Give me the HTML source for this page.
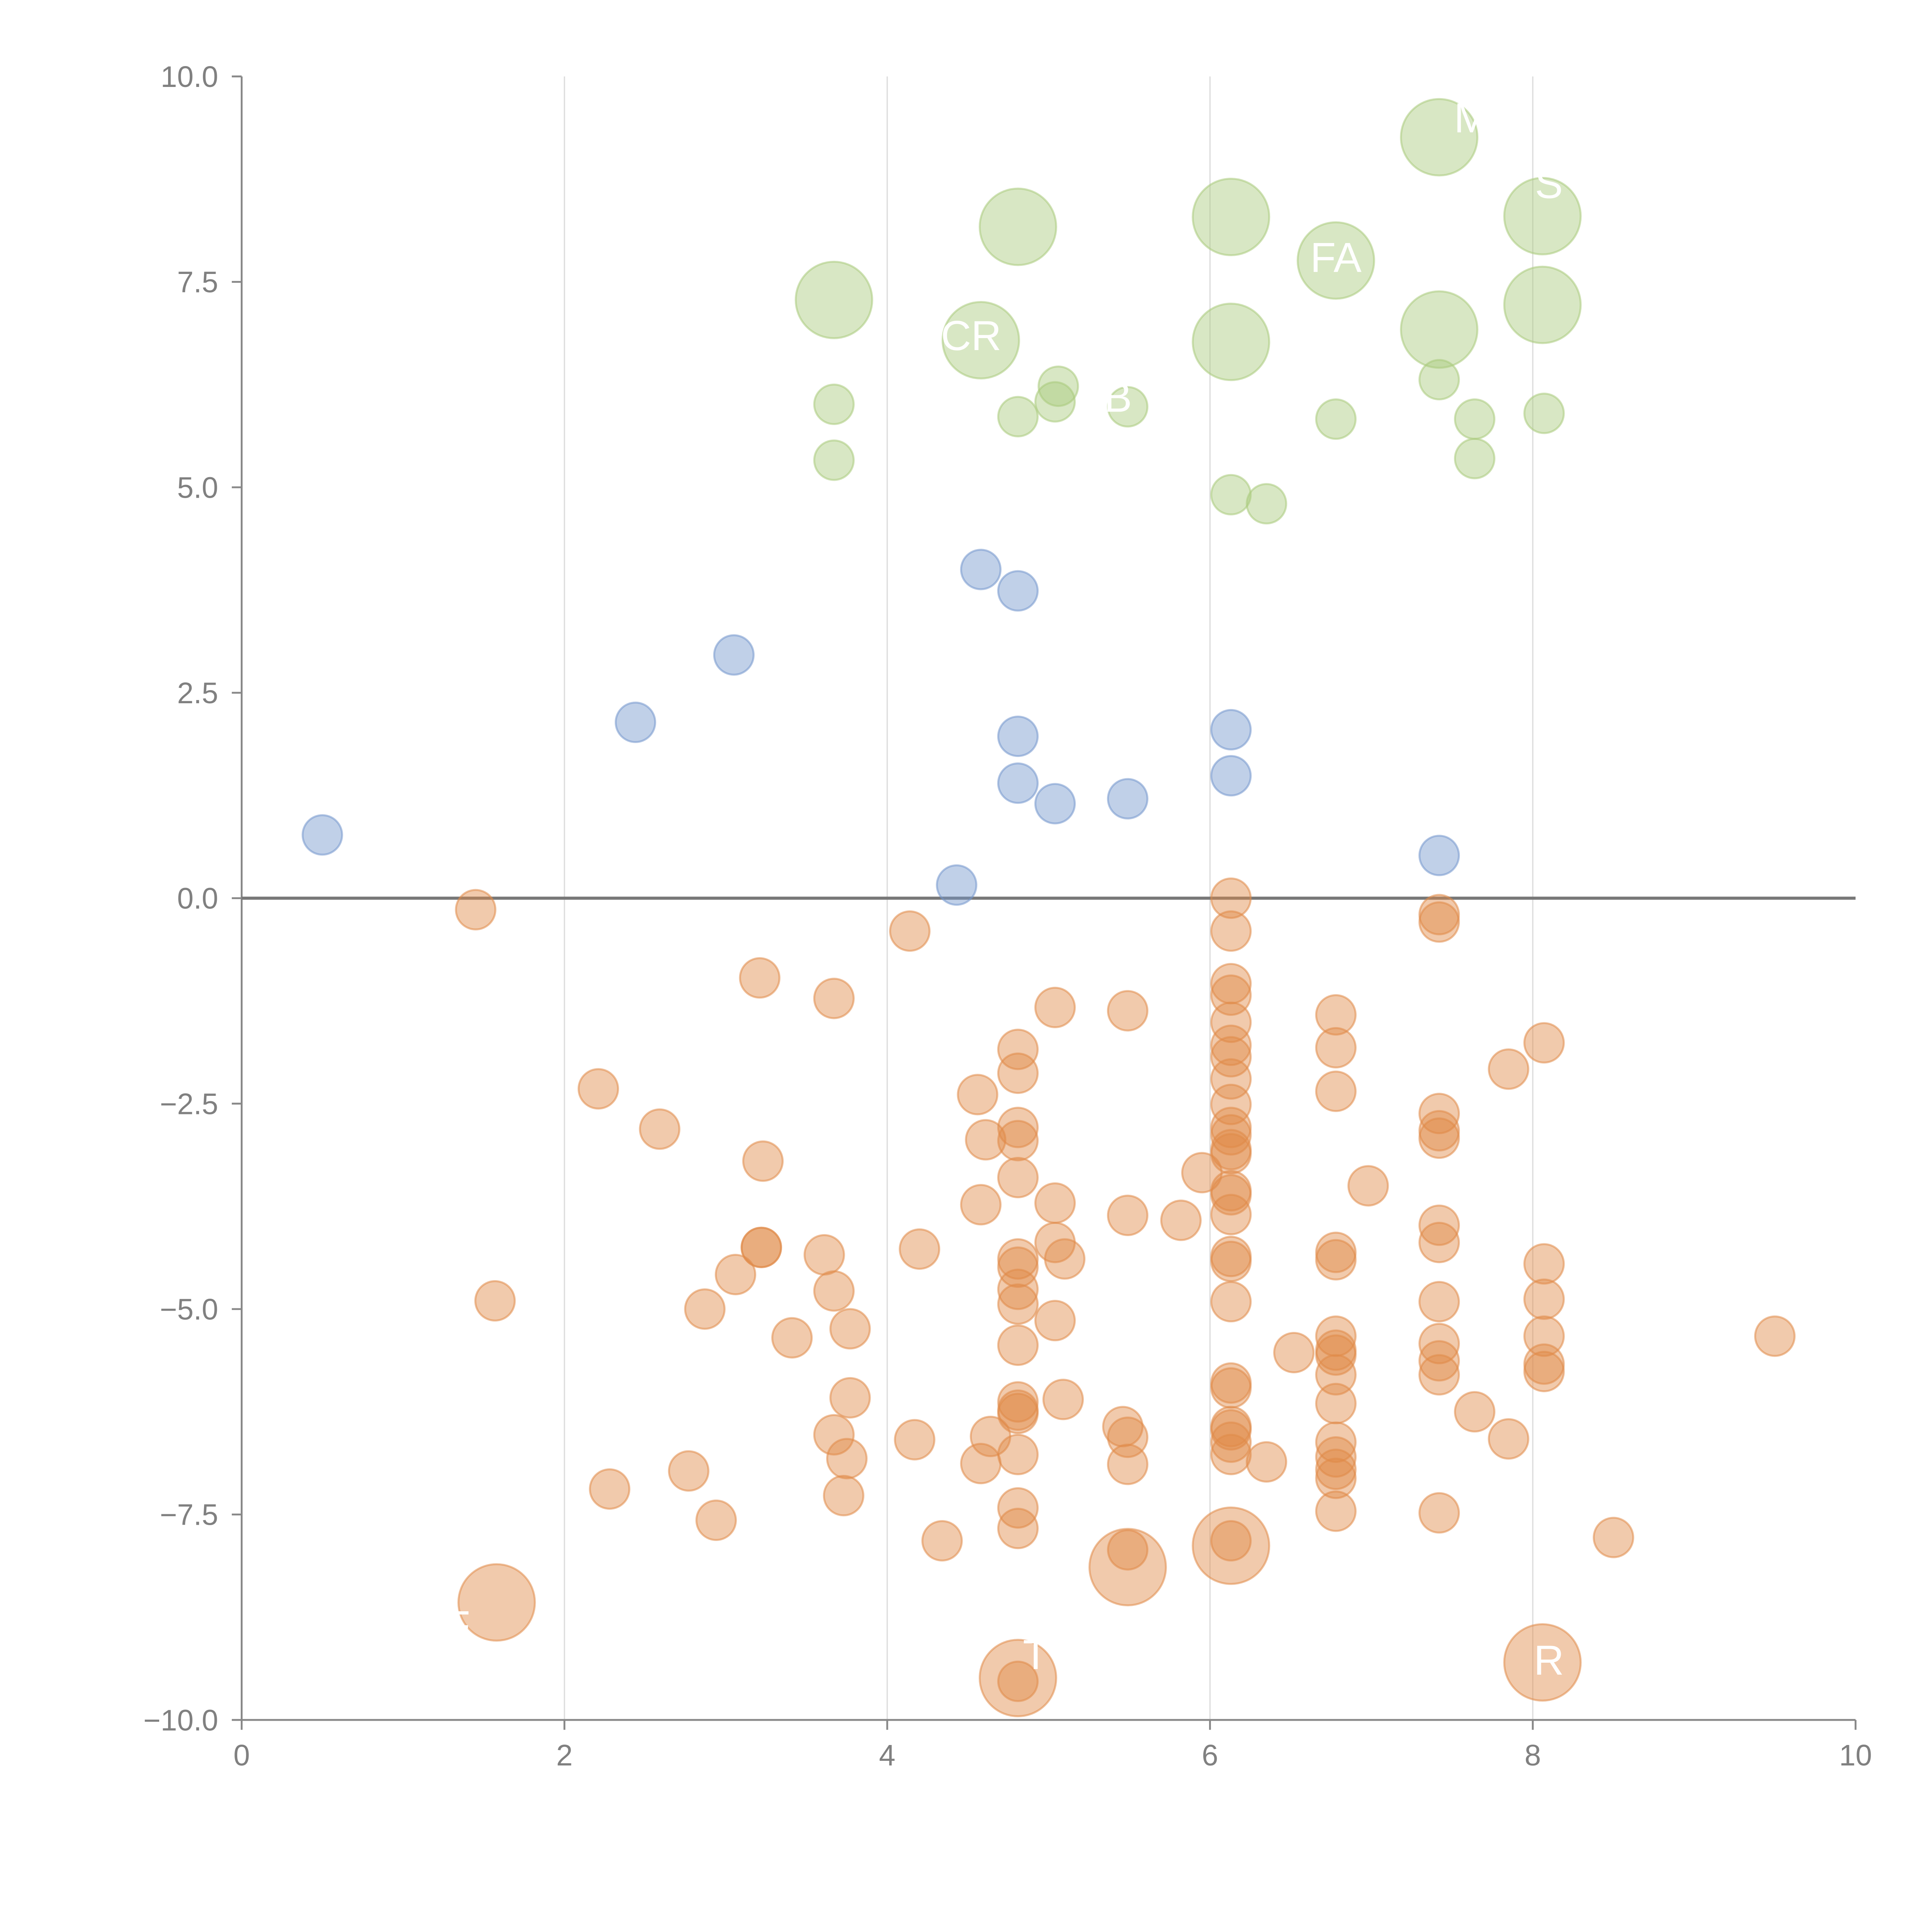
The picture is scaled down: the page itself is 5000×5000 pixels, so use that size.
<!DOCTYPE html>
<html><head><meta charset="utf-8"><style>
html,body{margin:0;padding:0;background:#fff}
svg{display:block}
text{font-family:"Liberation Sans",Arial,sans-serif}
</style></head><body>
<svg id="chart" width="5000" height="5000" viewBox="0 0 1567 1567" xmlns="http://www.w3.org/2000/svg">
<g id="grid"></g>
<g id="axes"></g>
<g id="marks"></g>
<g id="labels"></g>
</svg>
<script>
const xTicks = [0, 2, 4, 6, 8, 10];
const xTickLabels = ["0", "2", "4", "6", "8", "10"];
const yTicks = [10, 7.5, 5, 2.5, 0, -2.5, -5, -7.5, -10];
const yTickLabels = ["10.0", "7.5", "5.0", "2.5", "0.0", "\u22122.5", "\u22125.0", "\u22127.5", "\u221210.0"];

const greenX = [7.42,4.81,6.13,8.06,6.78,3.67,4.58,6.13,7.42,8.06,3.67,3.67,4.81,5.04,5.06,5.49,6.13,6.35,6.78,7.42,7.64,7.64,8.07];
const greenY = [9.26,8.17,8.29,8.30,7.76,7.28,6.79,6.77,6.92,7.22,6.01,5.33,5.86,6.04,6.23,5.98,4.91,4.80,5.83,6.31,5.83,5.35,5.90];
const greenS = [4,4,4,4,4,4,4,4,4,4,1,1,1,1,1,1,1,1,1,1,1,1,1];

const blueX = [0.50,2.44,3.05,4.58,4.81,4.81,4.81,5.04,5.49,6.13,6.13,4.43,7.42];
const blueY = [0.77,2.14,2.96,4.00,3.74,1.97,1.40,1.15,1.21,2.05,1.49,0.16,0.52];
const blueS = [1,1,1,1,1,1,1,1,1,1,1,1,1];

const orangeX = [1.45,1.57,1.58,2.21,2.28,2.59,2.77,2.87,2.94,3.06,3.21,3.23,3.22,3.22,3.41,3.61,3.67,3.67,3.77,3.77,3.67,3.75,3.73,4.14,4.20,4.17,4.34,4.56,4.61,4.58,4.64,4.58,
4.81,4.81,4.81,4.81,4.81,4.81,4.81,4.81,4.81,4.81,4.81,4.81,4.81,4.81,4.81,4.81,4.81,4.81,
5.04,5.04,5.04,5.10,5.04,5.09,5.49,5.49,5.46,5.49,5.49,5.49,5.49,5.82,5.95,
6.13,6.13,6.13,6.13,6.13,6.13,6.13,6.13,6.13,6.13,6.13,6.13,6.13,6.13,6.13,6.13,6.13,6.13,6.13,6.13,6.13,6.13,6.13,6.13,6.13,6.13,6.13,
6.35,6.52,6.78,6.78,6.78,6.78,6.78,6.78,6.78,6.78,6.78,6.78,6.78,6.78,6.78,6.78,6.78,6.98,
7.42,7.42,7.42,7.42,7.42,7.42,7.42,7.42,7.42,7.42,7.42,7.42,7.64,7.85,7.85,8.07,8.07,8.07,8.07,8.07,8.07,8.06,8.50,9.50];
const orangeY = [-0.14,-4.90,-8.57,-2.32,-7.19,-2.81,-6.97,-5.00,-7.57,-4.58,-0.97,-3.20,-4.25,-4.25,-5.35,-4.34,-1.22,-4.78,-5.24,-6.08,-6.53,-6.82,-7.27,-0.40,-4.27,-6.59,-7.82,-2.39,-2.94,-3.73,-6.55,-6.88,
-1.84,-2.13,-2.79,-2.95,-3.40,-4.39,-4.49,-4.76,-4.94,-5.44,-6.13,-6.23,-6.27,-6.77,-7.42,-7.67,-9.49,-9.53,
-1.33,-3.71,-4.19,-4.39,-5.14,-6.10,-1.37,-3.86,-6.43,-6.56,-6.89,-7.93,-8.14,-3.92,-3.34,
0.0,-0.40,-1.04,-1.18,-1.51,-1.79,-1.93,-2.20,-2.51,-2.79,-2.88,-3.06,-3.11,-3.56,-3.61,-3.85,-4.36,-4.42,-4.91,-5.90,-5.96,-6.43,-6.47,-6.62,-6.77,-7.82,-7.88,
-6.86,-5.53,-1.42,-1.82,-2.35,-4.31,-4.40,-5.33,-5.50,-5.56,-5.80,-6.15,-6.62,-6.80,-6.95,-7.06,-7.46,-3.50,
-0.20,-0.29,-2.62,-2.83,-2.92,-3.98,-4.19,-4.91,-5.42,-5.63,-5.80,-7.48,-6.25,-2.08,-6.58,-1.76,-4.45,-4.88,-5.33,-5.67,-5.76,-9.30,-7.78,-5.33];
const orangeS = orangeX.map(function(){return 1;});
orangeS[2]=4; orangeS[48]=4; orangeS[62]=4; orangeS[91]=4; orangeS[orangeX.length-3]=4;

const labelText = ["M","S","FA","CR","B","R","EF","T"];
const labelX = [7.62,8.10,6.78,4.52,5.43,8.10,1.25,4.92];
const labelY = [9.50,8.70,7.80,6.85,6.10,-9.27,-8.85,-9.20];

const X0=196, X1=1505, Y0=62, Y1=1395;
function sx(v){return X0+(v-0)/(10-0)*(X1-X0);}
function sy(v){return Y1-(v+10)/20*(Y1-Y0);}
const NS="http://www.w3.org/2000/svg";
function mk(tag,attrs,parent){const e=document.createElementNS(NS,tag);for(const k in attrs)e.setAttribute(k,attrs[k]);parent.appendChild(e);return e;}

const grid=document.getElementById('grid'), axes=document.getElementById('axes'), marks=document.getElementById('marks'), labels=document.getElementById('labels');

xTicks.forEach(function(t,i){
  if(t>0&&t<10){
    const g=mk('line',{x1:sx(t),x2:sx(t),y1:Y0,y2:Y1,stroke:'#dcdcdc','stroke-width':1},grid);
    
    
  }
  const tk=mk('line',{x1:sx(t),x2:sx(t),y1:Y1,y2:Y1+8,stroke:'#888','stroke-width':1.5},axes);
  
  
  const tx=mk('text',{x:sx(t),y:Y1+37,'text-anchor':'middle','font-size':24,fill:'#808080'},axes);
  tx.textContent=xTickLabels[i];
  
  
});
yTicks.forEach(function(t,i){
  const tk=mk('line',{x1:X0-8,x2:X0,y1:sy(t),y2:sy(t),stroke:'#888','stroke-width':1.5},axes);
  
  
  const tx=mk('text',{x:X0-19,y:sy(t)+8.5,'text-anchor':'end','font-size':24,fill:'#808080'},axes);
  tx.textContent=yTickLabels[i];
  
  
});
const ya=mk('line',{x1:X0,x2:X0,y1:Y0,y2:Y1,stroke:'#888','stroke-width':1.5},axes);


const xa=mk('line',{x1:X0,x2:X1,y1:Y1,y2:Y1,stroke:'#888','stroke-width':1.5},axes);


const zl=mk('line',{x1:X0,x2:X1,y1:sy(0),y2:sy(0),stroke:'#777','stroke-width':2.5},axes);



function series(xs,ys,ss,color,name){
  xs.forEach(function(x,i){
    const c=mk('circle',{cx:sx(x),cy:sy(ys[i]),r:16*Math.sqrt(ss[i])-1*(ss[i]>1?1:0),fill:color,'fill-opacity':0.45,stroke:color,'stroke-opacity':0.55,'stroke-width':1.6},marks);
    
    
  });
}
series(greenX,greenY,greenS,'#a9ca7c','bubble-positive-high');
series(blueX,blueY,blueS,'#7396cc','bubble-positive-low');
series(orangeX,orangeY,orangeS,'#e08a48','bubble-negative');

labelText.forEach(function(s,i){
  const t=mk('text',{x:sx(labelX[i]),y:sy(labelY[i])+12,'text-anchor':'middle','font-size':34,fill:'#fff'},labels);
  t.textContent=s;
  
  
});
</script>
</body></html>
